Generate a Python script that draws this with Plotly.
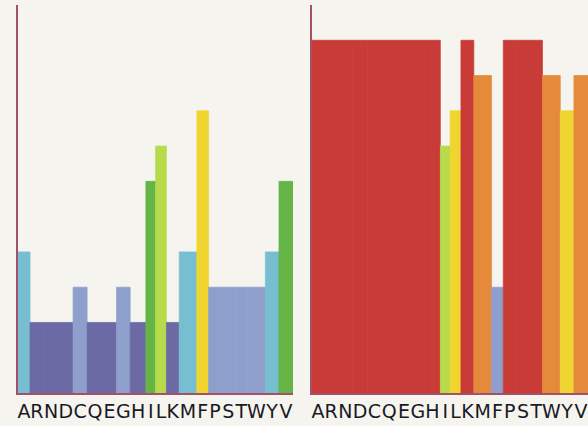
import plotly.graph_objects as go
import numpy as np

# ---- data ----
residues = list("ARNDCQEGHILKMFPSTWYV")
left_values = [4, 2, 2, 2, 3, 2, 2, 3, 2, 6, 7, 2, 4, 8, 3, 3, 3, 3, 4, 6]
right_values = [10, 10, 10, 10, 10, 10, 10, 10, 10, 7, 8, 10, 9, 3, 10, 10, 10, 9, 8, 9]

# ---- style ----
# colour for each value level
LEVEL_COLORS = {
    2: "#6c6aa5",
    3: "#8f9fcb",
    4: "#76bed0",
    5: "#6dbb8c",
    6: "#64b446",
    7: "#b7db4a",
    8: "#f0d530",
    9: "#e58a3a",
    10: "#c93b36",
}
# bar width follows the glyph advance of each letter in the label font (px)
GLYPH_ADVANCE = {
    "A": 12.0, "R": 13.8, "N": 14.6, "D": 14.6, "C": 14.0, "Q": 15.5, "E": 13.9,
    "G": 13.6, "H": 15.7, "I": 9.7, "L": 10.8, "K": 12.8, "M": 17.6, "F": 11.7,
    "P": 13.0, "S": 13.5, "T": 12.5, "W": 17.7, "Y": 13.6, "V": 14.0,
}
BG = "#f5f4ee"
AXIS_COLOR = "#a3506a"
W, H = 588, 426

widths = np.array([GLYPH_ADVANCE[r] for r in residues])
edges = np.concatenate([[0], np.cumsum(widths)])
centers = (edges[:-1] + edges[1:]) / 2
total = edges[-1]

fig = go.Figure()
for vals, xa, ya in [(left_values, "x", "y"), (right_values, "x2", "y2")]:
    cols = [LEVEL_COLORS[v] for v in vals]
    fig.add_trace(go.Bar(
        x=centers, y=vals, width=widths,
        marker=dict(color=cols, line=dict(color=cols, width=0.7)),
        xaxis=xa, yaxis=ya, showlegend=False, hoverinfo="skip",
    ))

axis_common = dict(showgrid=False, zeroline=False, showline=True,
                   linecolor=AXIS_COLOR, linewidth=2, fixedrange=True)
xcommon = dict(axis_common, range=[0, total], tickvals=list(centers), ticktext=residues,
               ticks="", tickangle=0,
               tickfont=dict(family="DejaVu Sans", size=19, color="#1a1a26"))
ycommon = dict(axis_common, range=[0, 11], showticklabels=False, ticks="")

ydom = [33 / H, (H - 5) / H]
fig.update_layout(
    width=W, height=H,
    margin=dict(l=0, r=0, t=0, b=0),
    paper_bgcolor=BG, plot_bgcolor=BG,
    xaxis=dict(xcommon, domain=[18 / W, 293 / W], anchor="y"),
    yaxis=dict(ycommon, domain=ydom, anchor="x"),
    xaxis2=dict(xcommon, domain=[312 / W, 588 / W], anchor="y2"),
    yaxis2=dict(ycommon, domain=ydom, anchor="x2"),
    barmode="overlay",
)

fig.write_html("out.html", config={"displayModeBar": False},
               post_script="document.body.style.margin='0';document.body.style.background='" + BG + "';")
